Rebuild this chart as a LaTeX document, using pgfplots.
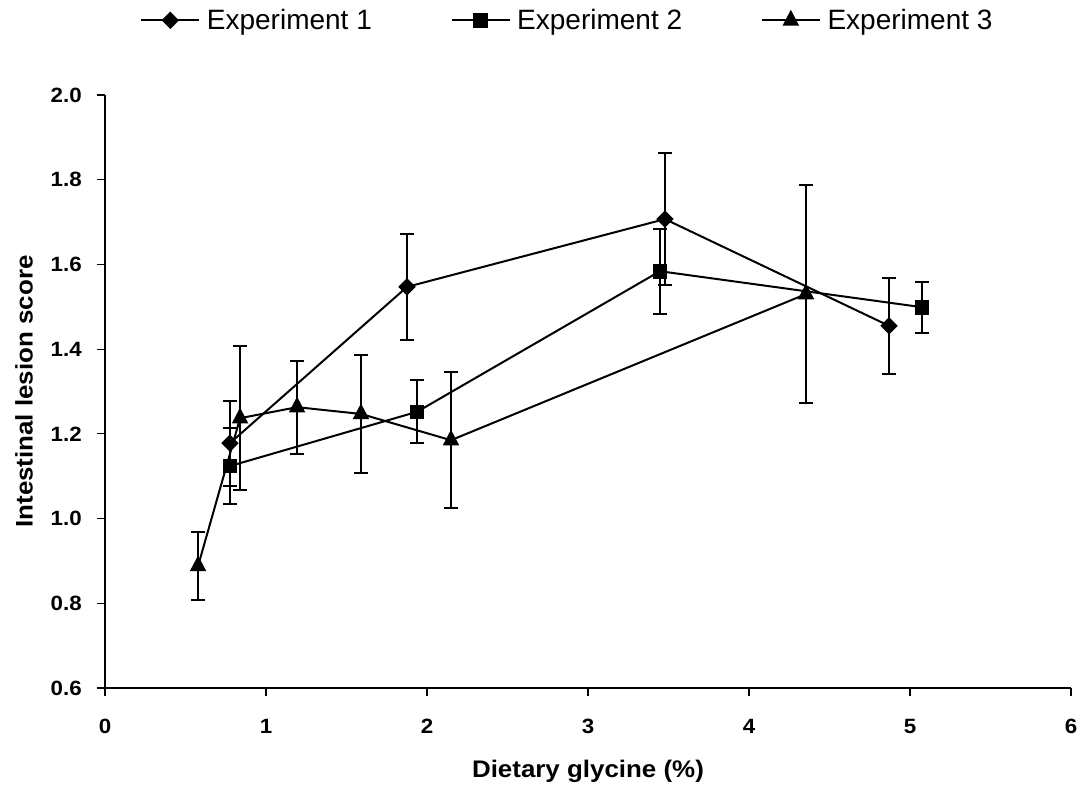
\documentclass[border=0pt]{standalone}
\usepackage{pgfplots}
\pgfplotsset{compat=1.18}
\usepackage{fontspec}
\setmainfont{Liberation Sans}
\newfontfamily\labfont{Liberation Sans}[FakeStretch=1.08]
\newfontfamily\tickfont{Liberation Sans}[FakeStretch=1.08]
\begin{document}
\begin{tikzpicture}
\useasboundingbox (-78.75pt,-76.5pt) rectangle (735.75pt,516pt);
\begin{axis}[
  scale only axis,
  width=724.5pt, height=444.75pt,
  xmin=0, xmax=6, ymin=0.6, ymax=2.0,
  xtick={0,1,2,3,4,5,6},
  ytick={0.6,0.8,1.0,1.2,1.4,1.6,1.8,2.0},
  xticklabel={\fontsize{15.5}{18}\tickfont\bfseries\pgfmathprintnumber[assume math mode=true]{\tick}},
  yticklabel={\fontsize{15.5}{18}\tickfont\bfseries\pgfmathprintnumber[fixed,fixed zerofill,precision=1,assume math mode=true]{\tick}},
  yticklabel style={anchor=east, inner sep=0pt, xshift=-11.25pt},
  xticklabel style={anchor=base, inner sep=0pt, yshift=-27.75pt},
  axis x line*=bottom, axis y line*=left,
  axis line style={line width=0.8pt,-},
  tick align=outside,
  major tick length=6pt,
  tick style={line width=0.8pt,black},
  xlabel={Dietary glycine (\%)},
  ylabel={Intestinal lesion score},
  label style={font=\fontsize{18}{21}\labfont\bfseries},
  xlabel style={at={(axis description cs:0.5,-0.1506)}, anchor=base},
  ylabel style={at={(axis description cs:-0.0839,0.5)}, anchor=center},
  legend style={draw=none, at={(0.479,1.0)}, anchor=center, yshift=56pt,
    font=\fontsize{21}{24}\selectfont, legend columns=3,
    /tikz/every even column/.append style={column sep=57pt},
    /tikz/every odd column/.append style={column sep=3pt}},
  legend image code/.code={
    \draw[mark repeat=2,mark phase=2] plot coordinates {(0pt,0pt) (21.75pt,0pt) (43.5pt,0pt)};},
]
\addplot[black, line width=1.5pt, mark=square*, mark size=4.1pt, mark options={fill=black, rotate=45, line width=1pt},
  error bars/.cd, y dir=both, y explicit,
  error bar style={line width=1.5pt},
  error mark options={rotate=90, mark size=5.25pt, line width=1.5pt}]
  coordinates {
  (0.776,1.178) +- (0,0.100)
  (1.876,1.547) +- (0,0.125)
  (3.478,1.707) +- (0,0.155)
  (4.870,1.455) +- (0,0.113)
  };
\addlegendentry{Experiment 1}
\addplot[black, line width=1.5pt, mark=square*, mark size=5pt, mark options={fill=black, line width=1pt},
  error bars/.cd, y dir=both, y explicit,
  error bar style={line width=1.5pt},
  error mark options={rotate=90, mark size=5.25pt, line width=1.5pt}]
  coordinates {
  (0.776,1.124) +- (0,0.090)
  (1.938,1.252) +- (0,0.074)
  (3.447,1.584) +- (0,0.100)
  (5.075,1.499) +- (0,0.060)
  };
\addlegendentry{Experiment 2}
\addplot[black, line width=1.5pt, mark=triangle*, mark size=6.2pt, mark options={fill=black, line width=1pt, yscale=1.1},
  error bars/.cd, y dir=both, y explicit,
  error bar style={line width=1.5pt},
  error mark options={rotate=90, mark size=5.25pt, line width=1.5pt}]
  coordinates {
  (0.578,0.888) +- (0,0.080)
  (0.839,1.237) +- (0,0.170)
  (1.193,1.263) +- (0,0.110)
  (1.590,1.247) +- (0,0.140)
  (2.149,1.185) +- (0,0.160)
  (4.354,1.530) +- (0,0.258)
  };
\addlegendentry{Experiment 3}
\end{axis}
\end{tikzpicture}
\end{document}
